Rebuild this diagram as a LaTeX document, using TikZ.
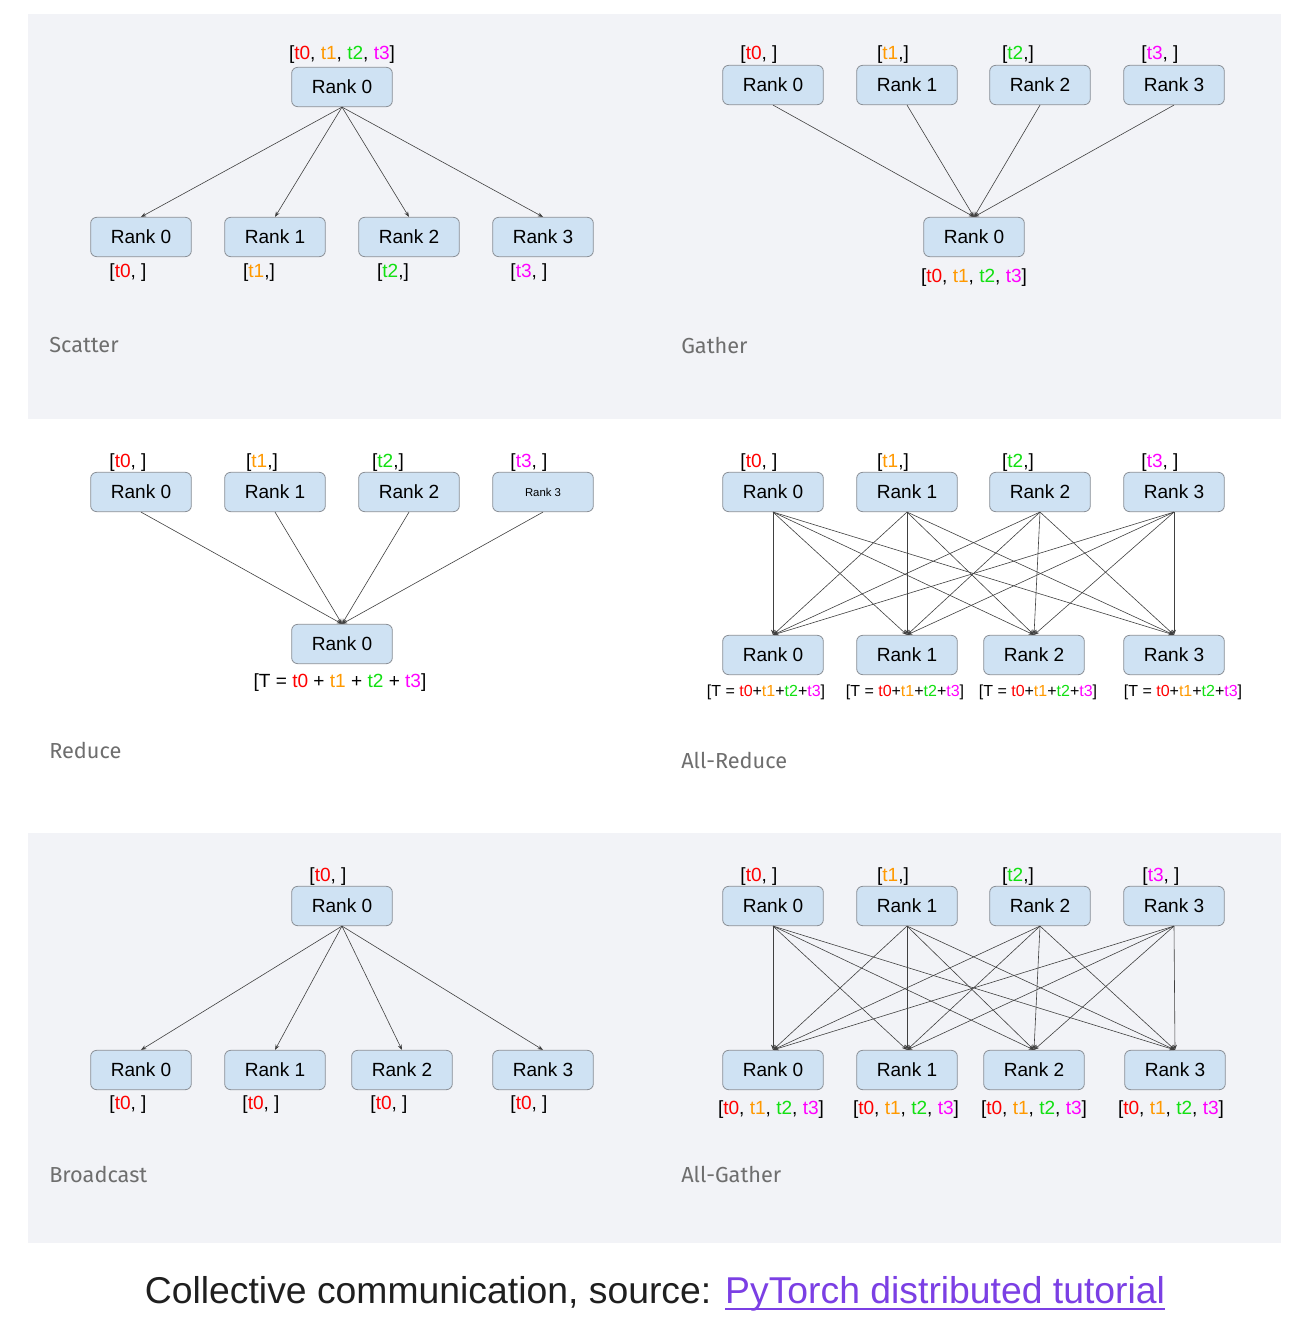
\documentclass[tikz,border=0pt]{standalone}
\usepackage{fontspec}
\setmainfont{Liberation Sans}
\newfontfamily\titlefont{Fira Sans}
\usetikzlibrary{arrows.meta}
\definecolor{bandgray}{HTML}{F2F3F7}
\definecolor{boxfill}{HTML}{CFE2F3}
\definecolor{boxline}{HTML}{8A8F96}
\definecolor{cA}{HTML}{FF0000}
\definecolor{cB}{HTML}{FF9900}
\definecolor{cC}{HTML}{11E011}
\definecolor{cD}{HTML}{FF00FF}
\definecolor{linkcol}{HTML}{7B3FE4}
\definecolor{titlegray}{HTML}{6E6E6E}
\newcommand{\ta}{\textcolor{cA}{t0}}
\newcommand{\tb}{\textcolor{cB}{t1}}
\newcommand{\tc}{\textcolor{cC}{t2}}
\newcommand{\td}{\textcolor{cD}{t3}}
\newcommand{\linkul}[1]{\leavevmode\vtop{\hbox{#1}\kern-2pt\hrule height 1.5pt}}
\tikzset{
  rankbox/.style={draw=boxline, fill=boxfill, rounded corners=4.5pt, line width=0.6pt,
    minimum width=75.5pt, minimum height=29.5pt, inner sep=0pt, font=\fontsize{14.3}{16}\selectfont},
  lbl/.style={inner sep=0pt, yshift=-2.2pt, font=\fontsize{14.3}{16}\selectfont},
  slbl/.style={inner sep=0pt, yshift=-1.5pt, font=\fontsize{12}{14}\selectfont},
  ptitle/.style={inner sep=0pt, anchor=west, text=titlegray, font=\titlefont\fontsize{16.3}{18}\selectfont},
  edge/.style={draw=black!75, line width=0.45pt, -{Stealth[length=4pt,width=3pt]}}
}
\begin{document}
\begin{tikzpicture}[x=0.75pt,y=-0.75pt]
\useasboundingbox (0,0) rectangle (1302,1332);
\fill[white] (0,0) rectangle (1302,1332);
\fill[bandgray] (28,14) rectangle (1281,419);
\fill[bandgray] (28,833) rectangle (1281,1243);

% ---------- Scatter ----------
\node[rankbox] (sc0) at (342,87) {Rank 0};
\node[lbl] (sct) at (342,52) {[\ta, \tb, \tc, \td]};
\node[rankbox] (scb0) at (141,237) {Rank 0};
\node[rankbox] (scb1) at (275,237) {Rank 1};
\node[rankbox] (scb2) at (409,237) {Rank 2};
\node[rankbox] (scb3) at (543,237) {Rank 3};
\node[lbl] (scl0) at (128,270) {[\ta, ]};
\node[lbl] (scl1) at (259,270) {[\tb,]};
\node[lbl] (scl2) at (393,270) {[\tc,]};
\node[lbl] (scl3) at (529,270) {[\td, ]};
\foreach \i in {0,1,2,3} \draw[edge] (sc0.south) -- (scb\i.north);
\node[ptitle] (scT) at (49,345) {Scatter};

% ---------- Gather ----------
\node[rankbox] (ga0) at (773,85) {Rank 0};
\node[rankbox] (ga1) at (907,85) {Rank 1};
\node[rankbox] (ga2) at (1040,85) {Rank 2};
\node[rankbox] (ga3) at (1174,85) {Rank 3};
\node[lbl] (gal0) at (759,52) {[\ta, ]};
\node[lbl] (gal1) at (893,52) {[\tb,]};
\node[lbl] (gal2) at (1018,52) {[\tc,]};
\node[lbl] (gal3) at (1160,52) {[\td, ]};
\node[rankbox] (gab) at (974,237) {Rank 0};
\node[lbl] (gabl) at (974,275) {[\ta, \tb, \tc, \td]};
\foreach \i in {0,1,2,3} \draw[edge] (ga\i.south) -- (gab.north);
\node[ptitle] (gaT) at (681,345) {Gather};

% ---------- Reduce ----------
\node[rankbox] (re0) at (141,492) {Rank 0};
\node[rankbox] (re1) at (275,492) {Rank 1};
\node[rankbox] (re2) at (409,492) {Rank 2};
\node[rankbox, font=\fontsize{8.5}{10}\selectfont] (re3) at (543,492) {Rank 3};
\node[lbl] (rel0) at (128,460) {[\ta, ]};
\node[lbl] (rel1) at (262,460) {[\tb,]};
\node[lbl] (rel2) at (388,460) {[\tc,]};
\node[lbl] (rel3) at (529,460) {[\td, ]};
\node[rankbox] (reb) at (342,644) {Rank 0};
\node[lbl] (rebl) at (340,680) {[T = \ta{} + \tb{} + \tc{} + \td]};
\foreach \i in {0,1,2,3} \draw[edge] (re\i.south) -- (reb.north);
\node[ptitle] (reT) at (49,750) {Reduce};

% ---------- All-Reduce ----------
\node[rankbox] (ar0) at (773,492) {Rank 0};
\node[rankbox] (ar1) at (907,492) {Rank 1};
\node[rankbox] (ar2) at (1040,492) {Rank 2};
\node[rankbox] (ar3) at (1174,492) {Rank 3};
\node[lbl] (arl0) at (759,460) {[\ta, ]};
\node[lbl] (arl1) at (893,460) {[\tb,]};
\node[lbl] (arl2) at (1018,460) {[\tc,]};
\node[lbl] (arl3) at (1160,460) {[\td, ]};
\node[rankbox] (arb0) at (773,655) {Rank 0};
\node[rankbox] (arb1) at (907,655) {Rank 1};
\node[rankbox] (arb2) at (1034,655) {Rank 2};
\node[rankbox] (arb3) at (1174,655) {Rank 3};
\node[slbl] (arbl0) at (766,690) {[T = \ta+\tb+\tc+\td]};
\node[slbl] (arbl1) at (905,690) {[T = \ta+\tb+\tc+\td]};
\node[slbl] (arbl2) at (1038,690) {[T = \ta+\tb+\tc+\td]};
\node[slbl] (arbl3) at (1183,690) {[T = \ta+\tb+\tc+\td]};
\foreach \i in {0,1,2,3} \foreach \j in {0,1,2,3} \draw[edge] (ar\i.south) -- (arb\j.north);
\node[ptitle] (arT) at (681,760) {All-Reduce};

% ---------- Broadcast ----------
\node[rankbox] (br0) at (342,906) {Rank 0};
\node[lbl] (brt) at (328,874) {[\ta, ]};
\node[rankbox] (brb0) at (141,1070) {Rank 0};
\node[rankbox] (brb1) at (275,1070) {Rank 1};
\node[rankbox] (brb2) at (402,1070) {Rank 2};
\node[rankbox] (brb3) at (543,1070) {Rank 3};
\node[lbl] (brl0) at (128,1102) {[\ta, ]};
\node[lbl] (brl1) at (261,1102) {[\ta, ]};
\node[lbl] (brl2) at (389,1102) {[\ta, ]};
\node[lbl] (brl3) at (529,1102) {[\ta, ]};
\foreach \i in {0,1,2,3} \draw[edge] (br0.south) -- (brb\i.north);
\node[ptitle] (brT) at (49,1174) {Broadcast};

% ---------- All-Gather ----------
\node[rankbox] (ag0) at (773,906) {Rank 0};
\node[rankbox] (ag1) at (907,906) {Rank 1};
\node[rankbox] (ag2) at (1040,906) {Rank 2};
\node[rankbox] (ag3) at (1174,906) {Rank 3};
\node[lbl] (agl0) at (759,874) {[\ta, ]};
\node[lbl] (agl1) at (893,874) {[\tb,]};
\node[lbl] (agl2) at (1018,874) {[\tc,]};
\node[lbl] (agl3) at (1161,874) {[\td, ]};
\node[rankbox] (agb0) at (773,1070) {Rank 0};
\node[rankbox] (agb1) at (907,1070) {Rank 1};
\node[rankbox] (agb2) at (1034,1070) {Rank 2};
\node[rankbox] (agb3) at (1175,1070) {Rank 3};
\node[lbl] (agbl0) at (771,1107) {[\ta, \tb, \tc, \td]};
\node[lbl] (agbl1) at (906,1107) {[\ta, \tb, \tc, \td]};
\node[lbl] (agbl2) at (1034,1107) {[\ta, \tb, \tc, \td]};
\node[lbl] (agbl3) at (1171,1107) {[\ta, \tb, \tc, \td]};
\foreach \i in {0,1,2,3} \foreach \j in {0,1,2,3} \draw[edge] (ag\i.south) -- (agb\j.north);
\node[ptitle] (agT) at (681,1174) {All-Gather};

% ---------- Caption ----------
\node[inner sep=0pt, anchor=base, text=black!88, font=\fontsize{28}{32}\selectfont] (cap) at (655,1303)
  {Collective communication, source: \textcolor{linkcol}{\linkul{PyTorch distributed tutorial}}};
\end{tikzpicture}
\end{document}
